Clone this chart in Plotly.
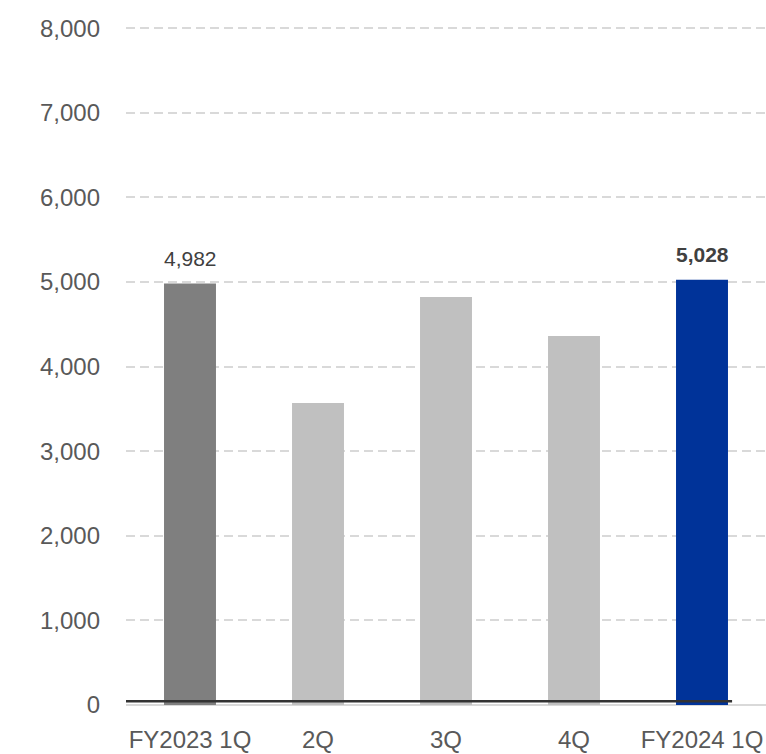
import plotly.graph_objects as go

# Quarterly values
categories = ["FY2023 1Q", "2Q", "3Q", "4Q", "FY2024 1Q"]
values = [4982, 3571, 4823, 4362, 5028]
bar_colors = ["#7f7f7f", "#c0c0c0", "#c0c0c0", "#c0c0c0", "#003399"]

# Only the first and latest quarters carry a value label
labelled = {0: False, 4: True}

y_ticks = [0, 1000, 2000, 3000, 4000, 5000, 6000, 7000, 8000]
y_tick_text = [f"{v:,}" for v in y_ticks]

FONT = "Liberation Sans, Arial, sans-serif"

fig = go.Figure(
    go.Bar(
        x=categories,
        y=values,
        marker=dict(color=bar_colors, line=dict(width=0)),
        width=0.406,
        hoverinfo="x+y",
    )
)

for i, bold in labelled.items():
    txt = f"{values[i]:,}"
    fig.add_annotation(
        x=categories[i],
        y=values[i],
        text=f"<b>{txt}</b>" if bold else txt,
        showarrow=False,
        yanchor="bottom",
        yshift=12,
        font=dict(family=FONT, size=21, color="#404040"),
    )

# Dark baseline drawn over the zero line
fig.add_shape(
    type="line",
    xref="paper", yref="y",
    x0=0, x1=0.947, y0=45, y1=45,
    line=dict(color="#333333", width=2.5),
)

fig.update_layout(
    width=766,
    height=754,
    margin=dict(l=126, r=0, t=24, b=49),
    paper_bgcolor="white",
    plot_bgcolor="white",
    showlegend=False,
    xaxis=dict(
        type="category",
        range=[-0.5, 4.5],
        showgrid=False,
        showline=False,
        ticks="",
        ticklabelstandoff=18,
        tickfont=dict(family=FONT, size=24, color="#595959"),
    ),
    yaxis=dict(
        range=[0, 8050],
        tickvals=y_ticks,
        ticktext=y_tick_text,
        showgrid=True,
        gridcolor="#d9d9d9",
        gridwidth=1.5,
        griddash="9px,5px",
        zeroline=True,
        zerolinecolor="#d9d9d9",
        zerolinewidth=2,
        showline=False,
        ticks="",
        ticklabelstandoff=25,
        tickfont=dict(family=FONT, size=24, color="#595959"),
    ),
)

fig.write_html("out.html")
